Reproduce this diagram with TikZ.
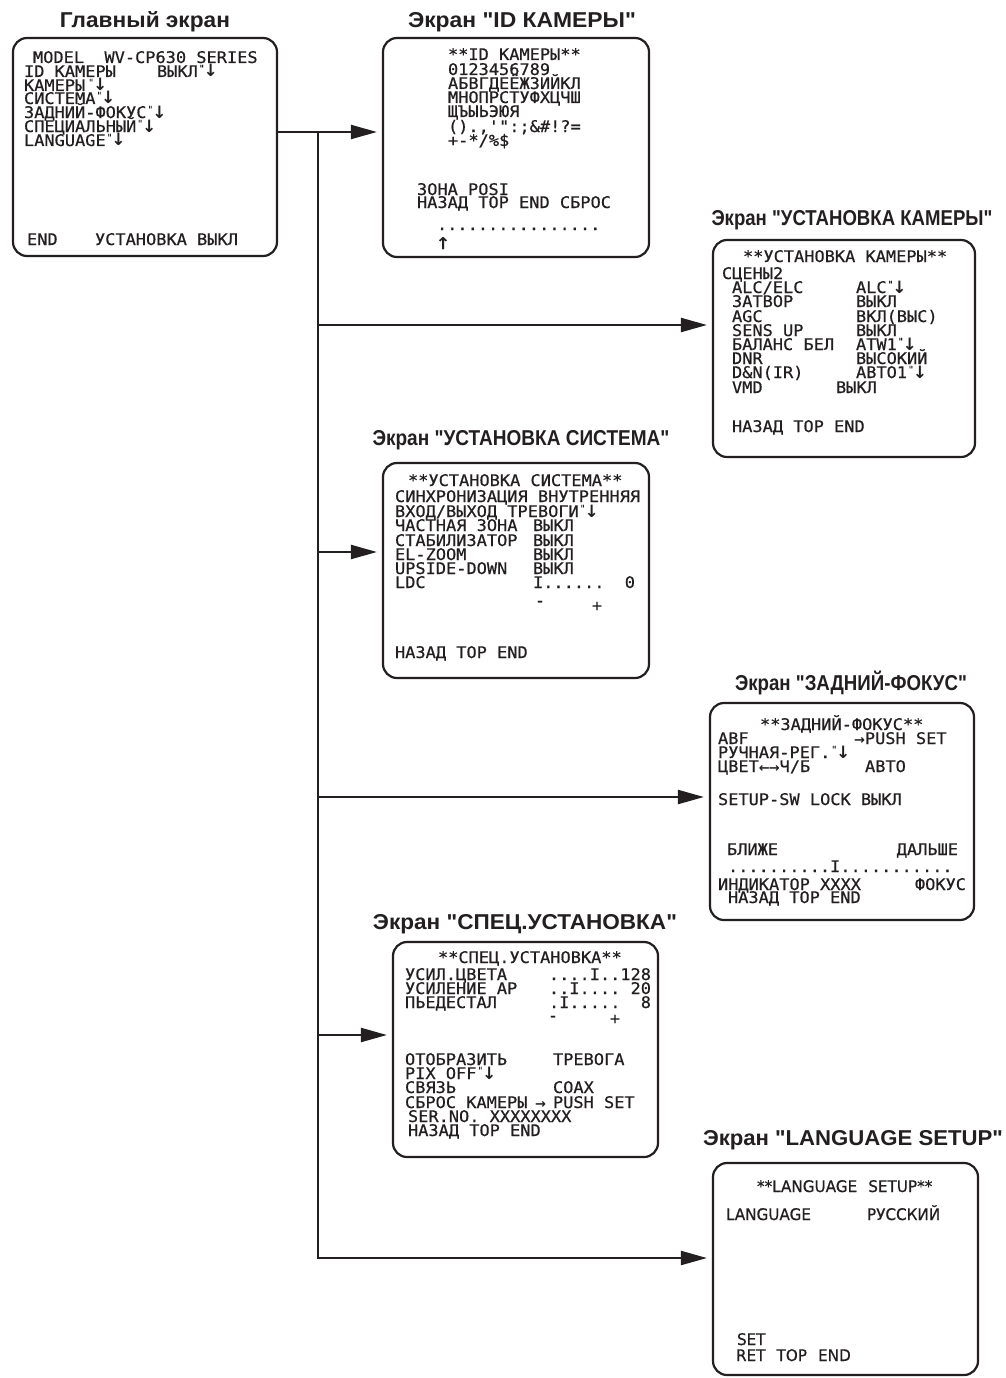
\documentclass[tikz,border=0pt]{standalone}
\usepackage{fontspec}
\usepackage{graphicx}
\usetikzlibrary{arrows.meta}
\newfontfamily\monof{DejaVu Sans Mono}[Ligatures=TeXOff,FakeBold=0.6,FakeStretch=1.06]
\newfontfamily\propf{DejaVu Sans}[Ligatures=TeXOff,FakeStretch=0.95,WordSpace=2.3,FakeBold=0.6]
\newfontfamily\dvsf{DejaVu Sans}[Ligatures=TeXOff]
\newfontfamily\titlef{Liberation Sans}[Ligatures=TeXOff]
\definecolor{ink}{HTML}{231F20}
\newcommand\ent{\kern1pt\raisebox{5.5pt}{\fontsize{9}{9}\selectfont"}\kern-1pt{\dvsf\bfseries\fontsize{17}{17}\selectfont↓}}
\newcommand\smarr[1]{{\dvsf\bfseries\fontsize{13}{13}\selectfont #1}}
\newcommand\fitw[2]{\resizebox{#1pt}{\height}{#2}}
\tikzset{
 scr/.style={anchor=base west, inner sep=0pt, outer sep=0pt, text=ink, text height=11pt, text depth=1.5pt, font=\monof\fontsize{16}{16}\selectfont},
 scre/.style={scr, anchor=base east},
 scrc/.style={scr, anchor=base, text height=6pt, text depth=0pt},
 lng/.style={scr, font=\propf\fontsize{16}{16}\selectfont},
 ttl/.style={anchor=base, inner sep=0pt, text=ink, font=\titlef\bfseries\fontsize{21.5}{21.5}\selectfont},
 screen/.style={draw=ink, line width=2.2pt, rounded corners=14pt, inner sep=0pt},
 conn/.style={draw=ink, line width=2.2pt},
 arr/.style={conn, -{Triangle[length=26pt,width=14pt]}, shorten >=5pt}
}
\begin{document}
\begin{tikzpicture}[x=1pt,y=-1pt]
\path[fill=white, use as bounding box] (0,0) rectangle (1006,1378);

% titles
\node[ttl] (t1) at (145,28) {\fitw{170}{Главный экран}};
\node[ttl] (t2) at (522,28) {\fitw{228}{Экран "ID КАМЕРЫ"}};
\node[ttl] (t3) at (852,225) {\fitw{281}{Экран "УСТАНОВКА КАМЕРЫ"}};
\node[ttl] (t4) at (521,445) {\fitw{297}{Экран "УСТАНОВКА СИСТЕМА"}};
\node[ttl] (t5) at (851,690) {\fitw{232}{Экран "ЗАДНИЙ-ФОКУС"}};
\node[ttl] (t6) at (525,929) {\fitw{304}{Экран "СПЕЦ.УСТАНОВКА"}};
\node[ttl] (t7) at (853,1145) {\fitw{300}{Экран "LANGUAGE SETUP"}};

% screen boxes
\node[screen, minimum width=264pt, minimum height=218pt] (main) at (145,147) {};
\node[screen, minimum width=266pt, minimum height=219pt] (idb) at (516,147.5) {};
\node[screen, minimum width=262pt, minimum height=217pt] (cam) at (844,348.5) {};
\node[screen, minimum width=266pt, minimum height=215pt] (sys) at (516,570.5) {};
\node[screen, minimum width=264pt, minimum height=217pt] (bf) at (842,811.5) {};
\node[screen, minimum width=265pt, minimum height=215pt] (spc) at (525.5,1049.5) {};
\node[screen, minimum width=265pt, minimum height=212pt] (lang) at (845.5,1269) {};

% connectors
\coordinate (j0) at (318,132);
\coordinate (j1) at (318,325);
\coordinate (j2) at (318,552);
\coordinate (j3) at (318,797);
\coordinate (j4) at (318,1035);
\coordinate (j5) at (318,1258);
\draw[conn] (main.east |- j0) -- (j0);
\draw[arr] (j0) -- (idb.west |- j0);
\draw[arr] (j0) -- (j5) -- (lang.west |- j5);
\draw[arr] (j1) -- (cam.west |- j1);
\draw[arr] (j2) -- (sys.west |- j2);
\draw[arr] (j3) -- (bf.west |- j3);
\draw[arr] (j4) -- (spc.west |- j4);

% main screen
\node[scr] (m1) at (33,63) {MODEL\ \ WV-CP630 SERIES};
\node[scr] (m2) at (24,77) {ID КАМЕРЫ};
\node[scr] (m3) at (157,77) {ВЫКЛ\ent};
\node[scr] (m4) at (24,91) {КАМЕРЫ\kern2pt\ent};
\node[scr] (m5) at (24,104) {СИСТЕМА\ent};
\node[scr] (m6) at (24,118) {ЗАДНИЙ-ФОКУС\ent};
\node[scr] (m7) at (24,132) {СПЕЦИАЛЬНЫЙ\ent};
\node[scr] (m8) at (24,146) {LANGUAGE\ent};
\node[scr] (m9) at (27,245) {END};
\node[scr] (m10) at (95,245) {УСТАНОВКА ВЫКЛ};

% ID screen
\node[scr] (i1) at (448,60) {**ID КАМЕРЫ**};
\node[scr] (i2) at (448,75) {0123456789};
\node[scr] (i3) at (448,89) {АБВГДЕЁЖЗИЙКЛ};
\node[scr] (i4) at (448,103) {МНОПРСТУФХЦЧШ};
\node[scr] (i5) at (448,117) {ЩЪЫЬЭЮЯ};
\node[scr] (i6) at (448,132) {().,'":;\&\#!?=};
\node[scr] (i7) at (448,146) {+-*/\%\$};
\node[scr] (i8) at (417,195) {ЗОНА POSI};
\node[scr] (i9) at (417,208) {НАЗАД TOP END СБРОС};
\node[scr] (i10) at (437,230) {................};
\node[scr, font=\monof\fontsize{22}{22}\selectfont] (i11) at (436,249) {↑};

% camera setup screen
\node[scr] (c1) at (743,262) {**УСТАНОВКА КАМЕРЫ**};
\node[scr] (c2) at (722,279) {СЦЕНЫ2};
\node[scr] (c3) at (732,293) {ALC/ELC};
\node[scr] (c4) at (732,307) {ЗАТВОР};
\node[scr] (c5) at (732,322) {AGC};
\node[scr] (c6) at (732,336) {SENS UP};
\node[scr] (c7) at (732,350) {БАЛАНС БЕЛ};
\node[scr] (c8) at (732,364) {DNR};
\node[scr] (c9) at (732,378) {D\&N(IR)};
\node[scr] (c10) at (732,393) {VMD};
\node[scr] (c11) at (856,293) {ALC\ent};
\node[scr] (c12) at (856,307) {ВЫКЛ};
\node[scr] (c13) at (856,322) {ВКЛ(ВЫС)};
\node[scr] (c14) at (856,336) {ВЫКЛ};
\node[scr] (c15) at (856,350) {ATW1\ent};
\node[scr] (c16) at (856,364) {ВЫСОКИЙ};
\node[scr] (c17) at (856,378) {АВТО1\ent};
\node[scr] (c18) at (836,393) {ВЫКЛ};
\node[scr] (c19) at (732,432) {НАЗАД TOP END};

% system setup screen
\node[scr] (s1) at (408,486) {**УСТАНОВКА СИСТЕМА**};
\node[scr] (s2) at (395,502) {СИНХРОНИЗАЦИЯ ВНУТРЕННЯЯ};
\node[scr] (s3) at (395,517) {ВХОД/ВЫХОД ТРЕВОГИ\ent};
\node[scr] (s4) at (395,531) {ЧАСТНАЯ ЗОНА};
\node[scr] (s5) at (533,531) {ВЫКЛ};
\node[scr] (s6) at (395,546) {СТАБИЛИЗАТОР};
\node[scr] (s7) at (533,546) {ВЫКЛ};
\node[scr] (s8) at (395,560) {EL-ZOOM};
\node[scr] (s9) at (533,560) {ВЫКЛ};
\node[scr] (s10) at (395,574) {UPSIDE-DOWN};
\node[scr] (s11) at (533,574) {ВЫКЛ};
\node[scr] (s12) at (395,588) {LDC};
\node[scr] (s13) at (533,588) {I......};
\node[scre] (s14) at (635,588) {0};
\node[scrc] (s15) at (540,606) {-};
\node[scrc] (s16) at (597,611) {+};
\node[scr] (s17) at (395,658) {НАЗАД TOP END};

% back focus screen
\node[scr] (b1) at (760,730) {**ЗАДНИЙ-ФОКУС**};
\node[scr] (b2) at (718,744) {ABF};
\node[scr] (b3) at (854,744) {\smarr{→}PUSH SET};
\node[scr] (b4) at (718,758) {РУЧНАЯ-РЕГ.\ent};
\node[scr] (b5) at (718,772) {ЦВЕТ\smarr{←\kern-1pt→}Ч/Б};
\node[scr] (b6) at (865,772) {АВТО};
\node[scr] (b7) at (718,805) {SETUP-SW LOCK ВЫКЛ};
\node[scr] (b8) at (727,855) {БЛИЖЕ};
\node[scre] (b9) at (958,855) {ДАЛЬШЕ};
\node[scr] (b10) at (728,872) {..........I...........};
\node[scr] (b11) at (718,890) {ИНДИКАТОР XXXX};
\node[scre] (b12) at (966,890) {ФОКУС};
\node[scr] (b13) at (728,903) {НАЗАД TOP END};

% special setup screen
\node[scr] (p1) at (438,963) {**СПЕЦ.УСТАНОВКА**};
\node[scr] (p2) at (405,980) {УСИЛ.ЦВЕТА};
\node[scre] (p3) at (651,980) {....I..128};
\node[scr] (p4) at (405,994) {УСИЛЕНИЕ АР};
\node[scre] (p5) at (651,994) {..I....\ 20};
\node[scr] (p6) at (405,1008) {ПЬЕДЕСТАЛ};
\node[scr] (p7) at (549,1008) {.I.....};
\node[scre] (p8) at (651,1008) {8};
\node[scrc] (p9) at (553,1021) {-};
\node[scrc] (p10) at (615,1024) {+};
\node[scr] (p11) at (405,1065) {ОТОБРАЗИТЬ};
\node[scr] (p12) at (553,1065) {ТРЕВОГА};
\node[scr] (p13) at (405,1079) {PIX OFF\ent};
\node[scr] (p14) at (405,1093) {СВЯЗЬ};
\node[scr] (p15) at (553,1093) {COAX};
\node[scr] (p16) at (405,1108) {СБРОС КАМЕРЫ};
\node[scr] (p17) at (535,1108) {\smarr{→}};
\node[scr] (p18) at (553,1108) {PUSH SET};
\node[scr] (p19) at (408,1122) {SER.NO. XXXXXXXX};
\node[scr] (p20) at (408,1136) {НАЗАД TOP END};

% language setup screen
\node[lng] (l1) at (757,1192) {**LANGUAGE SETUP**};
\node[lng] (l2) at (726,1220) {LANGUAGE};
\node[lng] (l3) at (867,1220) {РУССКИЙ};
\node[lng] (l4) at (737,1345) {SET};
\node[lng] (l5) at (736,1361) {RET TOP END};
\end{tikzpicture}
\end{document}
